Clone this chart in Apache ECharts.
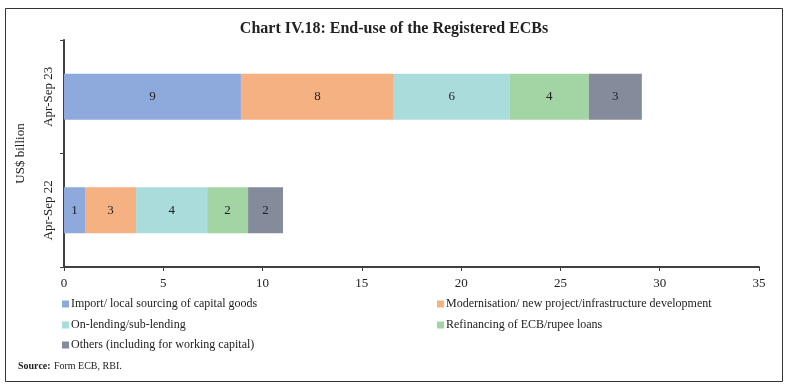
<!DOCTYPE html>
<html>
<head>
<meta charset="utf-8">
<script src="https://cdn.jsdelivr.net/npm/echarts@6/dist/echarts.min.js"></script>
<style>
html,body{margin:0;padding:0;background:#fff;}
#chart{width:788px;height:389px;}
</style>
</head>
<body>
<div id="chart"></div>
<script>
const categories = ['Apr-Sep 22', 'Apr-Sep 23'];
const seriesNames = [
  'Import/ local sourcing of capital goods',
  'Modernisation/ new project/infrastructure development',
  'On-lending/sub-lending',
  'Refinancing of ECB/rupee loans',
  'Others (including for working capital)'
];
const importCapital = [1.06, 8.91];
const modernisation = [2.57, 7.70];
const onLending = [3.58, 5.84];
const refinancing = [2.06, 3.98];
const others = [1.76, 2.67];
const xTicks = [0, 5, 10, 15, 20, 25, 30, 35];

const values = [importCapital, modernisation, onLending, refinancing, others];
const colors = ['#8EA9DB', '#F6B183', '#A9DCDB', '#A2D4A4', '#848B9B'];
const FONT = 'Liberation Serif';

const chart = echarts.init(document.getElementById('chart'));
const series = seriesNames.map((n, i) => ({
  name: n,
  type: 'bar',
  stack: 'total',
  data: values[i],
  barWidth: 46,
  itemStyle: { color: colors[i] },
  label: {
    show: true,
    position: 'inside',
    color: '#222',
    fontFamily: FONT,
    fontSize: 13,
    formatter: p => Math.round(p.value)
  }
}));

const legendPos = [
  { left: 62, top: 298 },
  { left: 437, top: 298 },
  { left: 62, top: 319 },
  { left: 437, top: 319 },
  { left: 62, top: 339 }
];
const legends = seriesNames.map((n, i) => ({
  data: [n],
  left: legendPos[i].left,
  top: legendPos[i].top,
  itemWidth: 7,
  itemHeight: 7,
  itemGap: 3,
  padding: 0,
  icon: 'rect',
  selectedMode: false,
  textStyle: { fontFamily: FONT, fontSize: 12, color: '#222', padding: [0, 0, 0, -3] }
}));

chart.setOption({
  animation: false,
  title: {
    text: 'Chart IV.18: End-use of the Registered ECBs',
    left: 'center',
    top: 16,
    textStyle: { fontFamily: FONT, fontSize: 16, fontWeight: 'bold', color: '#222' }
  },
  legend: legends,
  grid: { left: 64, right: 29, top: 40, bottom: 122 },
  xAxis: {
    type: 'value',
    min: 0,
    max: 35,
    interval: 5,
    axisLine: { show: true, lineStyle: { color: '#404040', width: 2 } },
    axisTick: { show: true, length: 4, lineStyle: { color: '#404040', width: 1 } },
    splitLine: { show: false },
    axisLabel: {
      fontFamily: FONT, fontSize: 13, color: '#222', margin: 10,
      formatter: v => xTicks.includes(v) ? String(v) : ''
    }
  },
  yAxis: {
    type: 'category',
    data: categories,
    name: 'US$ billion',
    nameLocation: 'middle',
    nameGap: 37,
    nameRotate: 90,
    nameTextStyle: { fontFamily: FONT, fontSize: 13, color: '#222' },
    axisLine: { show: true, lineStyle: { color: '#404040', width: 2 } },
    axisTick: { show: true, length: 4, lineStyle: { color: '#404040', width: 1 } },
    axisLabel: { rotate: 90, fontFamily: FONT, fontSize: 13, color: '#222', margin: 9 }
  },
  series: series,
  graphic: [
    {
      type: 'rect',
      shape: { x: 5.5, y: 8.5, width: 777, height: 373 },
      style: { fill: 'none', stroke: '#333', lineWidth: 1 },
      silent: true
    },
    {
      type: 'text',
      left: 18,
      top: 360,
      style: {
        rich: {
          b: { fontFamily: FONT, fontSize: 10, fontWeight: 'bold', fill: '#222' },
          n: { fontFamily: FONT, fontSize: 10, fill: '#222' }
        },
        text: '{b|Source:} {n|Form ECB, RBI.}'
      }
    }
  ]
});
</script>
</body>
</html>
